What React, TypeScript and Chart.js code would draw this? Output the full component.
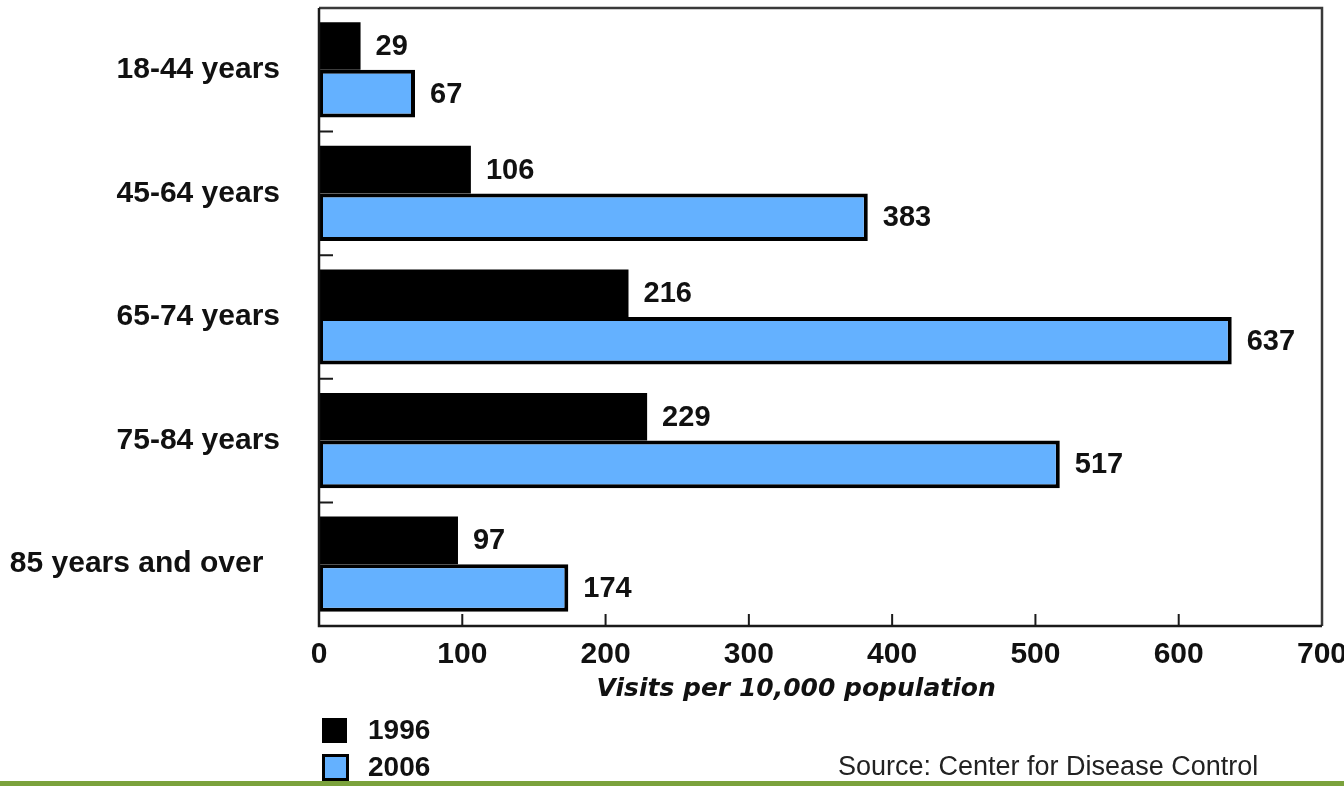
import React, { useEffect, useRef } from "react";
import { Chart, registerables } from "chart.js";

Chart.register(...registerables);

// Age groups (trailing spaces keep the last label's original offset)
const categories = ["18-44 years", "45-64 years", "65-74 years", "75-84 years", "85 years and over  "];
const visits1996 = [29, 106, 216, 229, 97];
const visits2006 = [67, 383, 637, 517, 174];
const xTickValues = [0, 100, 200, 300, 400, 500, 600, 700];
const seriesLabels = ["1996", "2006"];
const xAxisTitle = "Visits per 10,000 population";

const BLUE = "#64B1FF";
const FONT = "'Liberation Sans', Arial, sans-serif";

// Frame, inward tick marks, axis title and value labels drawn over the chart
const framePlugin = {
  id: "frameAndLabels",
  afterDraw(chart: any) {
    const { ctx, chartArea } = chart;
    const { left, right, top, bottom } = chartArea;
    const xs = chart.scales.x;
    const ys = chart.scales.y;
    ctx.save();

    // top / right frame
    ctx.strokeStyle = "#3a3a3a";
    ctx.lineWidth = 2.5;
    ctx.beginPath();
    ctx.moveTo(left, top);
    ctx.lineTo(right, top);
    ctx.lineTo(right, bottom);
    ctx.stroke();

    // left / bottom axes
    ctx.strokeStyle = "#1a1a1a";
    ctx.lineWidth = 2.5;
    ctx.beginPath();
    ctx.moveTo(left, top);
    ctx.lineTo(left, bottom);
    ctx.lineTo(right, bottom);
    ctx.stroke();

    // x ticks pointing up into the plot
    ctx.lineWidth = 2;
    ctx.beginPath();
    xs.ticks.forEach((t: any) => {
      const px = xs.getPixelForValue(t.value);
      if (px <= left + 1 || px >= right - 1) return;
      ctx.moveTo(px, bottom);
      ctx.lineTo(px, bottom - 12);
    });
    ctx.stroke();

    // y ticks at category boundaries, pointing right
    ctx.beginPath();
    for (let i = 0; i < categories.length - 1; i++) {
      const py = (ys.getPixelForValue(i) + ys.getPixelForValue(i + 1)) / 2;
      ctx.moveTo(left, py);
      ctx.lineTo(left + 14, py);
    }
    ctx.stroke();

    // x axis title
    ctx.fillStyle = "#111";
    ctx.font = `italic bold 25px 'DejaVu Sans', Verdana, sans-serif`;
    ctx.textAlign = "center";
    ctx.textBaseline = "middle";
    ctx.fillText(xAxisTitle, xs.getPixelForValue(333), bottom + 63);

    // value labels
    ctx.font = `bold 29px ${FONT}`;
    ctx.textAlign = "left";
    chart.data.datasets.forEach((ds: any, di: number) => {
      const meta = chart.getDatasetMeta(di);
      meta.data.forEach((bar: any, i: number) => {
        ctx.fillText(String(ds.data[i]), bar.x + 15, bar.y + 1);
      });
    });
    ctx.restore();
  },
};

export default function App() {
  const canvasRef = useRef<HTMLCanvasElement>(null);

  useEffect(() => {
    const chart = new Chart(canvasRef.current!, {
      type: "bar",
      data: {
        labels: categories,
        datasets: [
          {
            label: seriesLabels[0],
            data: visits1996,
            backgroundColor: "#000000",
            borderColor: "#000000",
            borderWidth: 0,
            categoryPercentage: 0.77,
            barPercentage: 1.0,
          },
          {
            label: seriesLabels[1],
            data: visits2006,
            backgroundColor: BLUE,
            borderColor: "#000000",
            borderWidth: 4,
            borderSkipped: false,
            categoryPercentage: 0.77,
            barPercentage: 1.0,
          },
        ],
      },
      options: {
        indexAxis: "y",
        animation: false,
        responsive: false,
        maintainAspectRatio: false,
        layout: { padding: { left: 0, right: 22, top: 8, bottom: 80 } },
        plugins: {
          legend: { display: false },
          tooltip: { enabled: false },
        },
        scales: {
          x: {
            type: "linear",
            min: 0,
            max: 700,
            afterBuildTicks: (axis: any) => {
              axis.ticks = xTickValues.map((v) => ({ value: v }));
            },
            afterFit: (axis: any) => {
              axis.height = 80;
              axis.paddingRight = 0;
              axis.paddingLeft = 0;
              axis.paddingTop = 0;
              axis.paddingBottom = 0;
            },
            grid: { display: false, drawTicks: false },
            border: { display: false },
            ticks: {
              padding: 11,
              color: "#111",
              font: { family: FONT, size: 30, weight: "bold" },
              maxRotation: 0,
            },
          },
          y: {
            afterFit: (axis: any) => {
              axis.width = 319;
              axis.paddingTop = 0;
              axis.paddingBottom = 0;
              axis.paddingLeft = 0;
              axis.paddingRight = 0;
            },
            grid: { display: false, drawTicks: false },
            border: { display: false },
            ticks: {
              padding: 39,
              color: "#111",
              font: { family: FONT, size: 30, weight: "bold" },
            },
          },
        },
      },
      plugins: [framePlugin],
    } as any);
    return () => chart.destroy();
  }, []);

  const legendText: React.CSSProperties = {
    position: "absolute",
    left: 368,
    font: `bold 28px ${FONT}`,
    color: "#111",
    lineHeight: "28px",
  };

  return (
    <div style={{ position: "fixed", left: 0, top: 0, width: 1344, height: 786, background: "#fff", overflow: "hidden" }}>
      <canvas ref={canvasRef} width={1344} height={786} style={{ position: "absolute", left: 0, top: 0 }} />
      {/* legend */}
      <div style={{ position: "absolute", left: 322, top: 718, width: 25, height: 25, background: "#000" }} />
      <div style={{ ...legendText, top: 716 }}>{seriesLabels[0]}</div>
      <div
        style={{
          position: "absolute",
          left: 322,
          top: 754,
          width: 21,
          height: 21,
          background: BLUE,
          border: "3px solid #000",
        }}
      />
      <div style={{ ...legendText, top: 753 }}>{seriesLabels[1]}</div>
      {/* source note */}
      <div
        style={{
          position: "absolute",
          left: 838,
          top: 752,
          font: `27px ${FONT}`,
          color: "#222",
          lineHeight: "28px",
          whiteSpace: "nowrap",
        }}
      >
        Source: Center for Disease Control
      </div>
      {/* bottom accent band */}
      <div style={{ position: "absolute", left: 0, top: 781, width: 1344, height: 5, background: "#7BA23C" }} />
    </div>
  );
}
